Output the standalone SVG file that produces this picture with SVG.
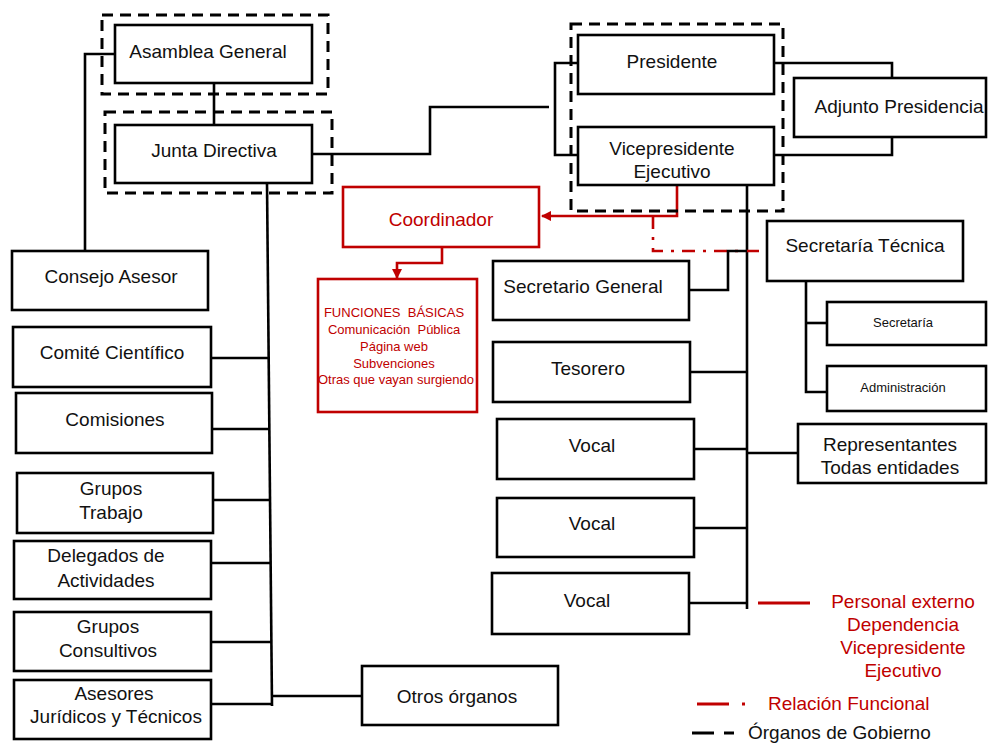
<svg xmlns="http://www.w3.org/2000/svg" width="988" height="745" viewBox="0 0 988 745">
<style>
.box{fill:#fff;stroke:#000;stroke-width:2.6}
.rbox{fill:#fff;stroke:#C00000;stroke-width:2.6}
.gov{fill:none;stroke:#000;stroke-width:3;stroke-dasharray:11 7}
.ln{fill:none;stroke:#000;stroke-width:2.6}
.rl{fill:none;stroke:#C00000;stroke-width:2.6}
.rdd{fill:none;stroke:#C00000;stroke-width:2.6;stroke-dasharray:13 8 3 8}
text{font-family:"Liberation Sans",Arial,sans-serif;font-size:19px;fill:#111;text-anchor:middle}
.red{fill:#C00000}
.sm{font-size:13px}
.pre{white-space:pre}
.st{text-anchor:start}
</style>
<defs>
<marker id="ah" viewBox="0 0 10 10" refX="9" refY="5" markerWidth="4" markerHeight="4" orient="auto" markerUnits="strokeWidth">
<path d="M0,0 L10,5 L0,10 z" fill="#C00000"/>
</marker>
</defs>

<g id="connectors">
<polyline class="ln" points="115,54 85,54 85,251"/>
<line class="ln" x1="214" y1="83" x2="214" y2="125"/>
<polyline class="ln" points="312,154 430,154 430,107 549,107"/>
<polyline class="ln" points="578,63 555,63 555,155 578,155"/>
<polyline class="ln" points="774,63 892,63 892,78"/>
<polyline class="ln" points="774,155 892,155 892,137"/>
<polyline class="ln" points="267,183 272,706"/>
<line class="ln" x1="211" y1="358" x2="270" y2="358"/>
<line class="ln" x1="212" y1="429" x2="270" y2="429"/>
<line class="ln" x1="213" y1="500" x2="271" y2="500"/>
<line class="ln" x1="211" y1="563" x2="271" y2="563"/>
<line class="ln" x1="211" y1="642" x2="272" y2="642"/>
<line class="ln" x1="211" y1="704" x2="272" y2="704"/>
<line class="ln" x1="272" y1="696" x2="362" y2="696"/>
<line class="ln" x1="747" y1="185" x2="747" y2="609"/>
<line class="ln" x1="690" y1="372" x2="747" y2="372"/>
<line class="ln" x1="694" y1="449" x2="747" y2="449"/>
<line class="ln" x1="747" y1="453" x2="798" y2="453"/>
<line class="ln" x1="694" y1="528" x2="747" y2="528"/>
<line class="ln" x1="689" y1="603" x2="747" y2="603"/>
<polyline class="ln" points="806,281 806,392 827,392"/>
<line class="ln" x1="806" y1="323" x2="827" y2="323"/>
<polyline class="rdd" points="653,216 653,251 767,251"/>
<polyline class="ln" points="689,290 728,290 728,251 747,251"/>
<polyline class="rl" points="677,185 677,216 542,216" marker-end="url(#ah)"/>
<polyline class="rl" points="442,247 442,263 397,263 397,278" marker-end="url(#ah)"/>
</g>

<g id="gov-asamblea"><rect class="gov" x="102" y="15" width="226" height="79"/></g>
<g id="gov-junta"><rect class="gov" x="105" y="112" width="227" height="81"/></g>
<g id="gov-presidencia"><rect class="gov" x="571" y="24" width="212" height="187"/></g>

<g id="asamblea"><rect class="box" x="115" y="25" width="197" height="58"/><text x="208" y="58">Asamblea General</text></g>
<g id="junta"><rect class="box" x="115" y="125" width="197" height="58"/><text x="214" y="157">Junta Directiva</text></g>
<g id="presidente"><rect class="box" x="578" y="35" width="196" height="59"/><text x="672" y="68">Presidente</text></g>
<g id="vicepresidente"><rect class="box" x="578" y="127" width="196" height="58"/><text x="672" y="155">Vicepresidente</text><text x="672" y="178">Ejecutivo</text></g>
<g id="adjunto"><rect class="box" x="794" y="78" width="192" height="59"/><text x="899" y="113">Adjunto Presidencia</text></g>
<g id="coordinador"><rect class="rbox" x="343" y="187" width="196" height="60"/><text class="red" x="441" y="226">Coordinador</text></g>
<g id="funciones"><rect class="rbox" x="318" y="279" width="159" height="133"/>
<text class="red sm pre" x="394" y="317">FUNCIONES  BÁSICAS</text>
<text class="red sm pre" x="394" y="334">Comunicación  Pública</text>
<text class="red sm" x="394" y="351">Página web</text>
<text class="red sm" x="394" y="368">Subvenciones</text>
<text class="red sm" x="396" y="384">Otras que vayan surgiendo</text></g>
<g id="secretario-general"><rect class="box" x="493" y="261" width="196" height="59"/><text x="583" y="293">Secretario General</text></g>
<g id="tesorero"><rect class="box" x="493" y="342" width="197" height="60"/><text x="588" y="375">Tesorero</text></g>
<g id="vocal1"><rect class="box" x="497" y="419" width="197" height="60"/><text x="592" y="452">Vocal</text></g>
<g id="vocal2"><rect class="box" x="497" y="498" width="197" height="59"/><text x="592" y="530">Vocal</text></g>
<g id="vocal3"><rect class="box" x="492" y="573" width="197" height="61"/><text x="587" y="607">Vocal</text></g>
<g id="secretaria-tecnica"><rect class="box" x="767" y="221" width="196" height="60"/><text x="865" y="252">Secretaría Técnica</text></g>
<g id="secretaria"><rect class="box" x="827" y="302" width="159" height="43"/><text class="sm" x="903" y="327">Secretaría</text></g>
<g id="administracion"><rect class="box" x="827" y="366" width="159" height="45"/><text class="sm" x="903" y="392">Administración</text></g>
<g id="representantes"><rect class="box" x="798" y="424" width="188" height="59"/><text x="890" y="451">Representantes</text><text x="890" y="474">Todas entidades</text></g>
<g id="consejo"><rect class="box" x="12" y="251" width="196" height="59"/><text x="111" y="283">Consejo Asesor</text></g>
<g id="comite"><rect class="box" x="13" y="327" width="198" height="60"/><text x="112" y="359">Comité Científico</text></g>
<g id="comisiones"><rect class="box" x="16" y="393" width="196" height="60"/><text x="115" y="426">Comisiones</text></g>
<g id="grupos-trabajo"><rect class="box" x="17" y="473" width="196" height="60"/><text x="111" y="495">Grupos</text><text x="111" y="519">Trabajo</text></g>
<g id="delegados"><rect class="box" x="14" y="541" width="197" height="58"/><text x="106" y="562">Delegados de</text><text x="106" y="587">Actividades</text></g>
<g id="grupos-consultivos"><rect class="box" x="14" y="612" width="197" height="59"/><text x="108" y="633">Grupos</text><text x="108" y="657">Consultivos</text></g>
<g id="asesores"><rect class="box" x="14" y="680" width="197" height="59"/><text x="114" y="700">Asesores</text><text x="116" y="723">Jurídicos y Técnicos</text></g>
<g id="otros"><rect class="box" x="362" y="666" width="196" height="59"/><text x="457" y="703">Otros órganos</text></g>

<g id="legend">
<line x1="758" y1="603" x2="810" y2="603" stroke="#C00000" stroke-width="3"/>
<text class="red" x="903" y="608">Personal externo</text>
<text class="red" x="903" y="631">Dependencia</text>
<text class="red" x="903" y="654">Vicepresidente</text>
<text class="red" x="903" y="677">Ejecutivo</text>
<line x1="697" y1="704" x2="729" y2="704" stroke="#C00000" stroke-width="3"/>
<line x1="742" y1="704" x2="745" y2="704" stroke="#C00000" stroke-width="3"/>
<text class="red st" x="768" y="710">Relación Funcional</text>
<line x1="692" y1="733" x2="714" y2="733" stroke="#000" stroke-width="3"/>
<line x1="724" y1="733" x2="734" y2="733" stroke="#000" stroke-width="3"/>
<text class="st" x="748" y="739">Órganos de Gobierno</text>
</g>
</svg>
